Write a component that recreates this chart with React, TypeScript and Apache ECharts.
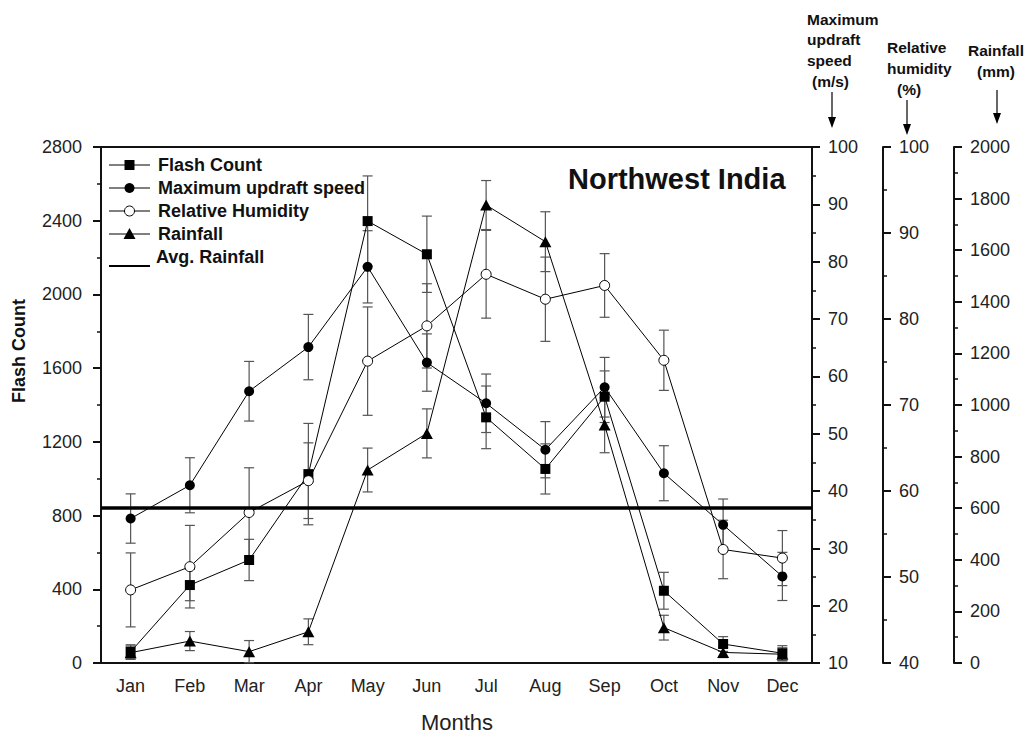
import { useEffect, useRef } from 'react';
import * as echarts from 'echarts';

const months = ['Jan', 'Feb', 'Mar', 'Apr', 'May', 'Jun', 'Jul', 'Aug', 'Sep', 'Oct', 'Nov', 'Dec'];

const flashCount = [61, 423, 559, 1025, 2398, 2218, 1333, 1053, 1445, 392, 103, 53];
const flashCountErr = [38, 85, 112, 275, 245, 207, 170, 136, 140, 100, 40, 41];

const updraftSpeed = [35.2, 41.0, 57.4, 65.1, 79.1, 62.4, 55.3, 47.2, 58.1, 43.1, 34.1, 25.1];
const updraftSpeedErr = [4.3, 4.8, 5.2, 5.7, 6.3, 5.0, 5.1, 4.9, 5.2, 4.8, 4.5, 4.2];

const humidity = [48.5, 51.2, 57.5, 61.2, 75.1, 79.2, 85.2, 82.3, 83.9, 75.2, 53.2, 52.2];
const humidityErr = [4.3, 4.8, 5.2, 4.4, 6.3, 4.9, 5.1, 4.9, 3.7, 3.5, 3.4, 3.2];

const rainfall = [40, 85, 44, 121, 748, 890, 1775, 1633, 922, 137, 41, 34];
const rainfallErr = [26, 37, 43, 50, 85, 95, 95, 116, 107, 48, 20, 25];

const avgRainfall = 600;

const FONT = "'Liberation Sans', Arial, Helvetica, sans-serif";
const INK = '#111';
const ERR = '#555';

const plainNumber = (v: number) => String(v);

const errorBars = (vals: number[], errs: number[], yAxisIndex: number) => ({
  type: 'custom',
  yAxisIndex,
  z: 1,
  silent: true,
  data: vals.map((v, i) => [i, v - errs[i], v + errs[i]]),
  encode: { x: 0, y: [1, 2] },
  renderItem: (_params: any, api: any) => {
    const lo = api.coord([api.value(0), api.value(1)]);
    const hi = api.coord([api.value(0), api.value(2)]);
    const hw = 5;
    const style = { stroke: ERR, lineWidth: 1.2, fill: null };
    return {
      type: 'group',
      children: [
        { type: 'line', shape: { x1: hi[0], y1: hi[1], x2: lo[0], y2: lo[1] }, style },
        { type: 'line', shape: { x1: hi[0] - hw, y1: hi[1], x2: hi[0] + hw, y2: hi[1] }, style },
        { type: 'line', shape: { x1: lo[0] - hw, y1: lo[1], x2: lo[0] + hw, y2: lo[1] }, style },
      ],
    };
  },
});

const valueAxis = (extra: any) => ({
  type: 'value',
  splitLine: { show: false },
  axisLine: { show: true, lineStyle: { color: INK, width: 2 } },
  axisTick: { show: true, length: 8, lineStyle: { color: INK, width: 2 } },
  minorTick: { show: true, splitNumber: 2, length: 4, lineStyle: { color: INK, width: 1.5 } },
  axisLabel: { fontSize: 18, color: '#222', fontFamily: FONT, margin: 16, formatter: plainNumber },
  ...extra,
});

const legendRows = [
  { label: 'Flash Count', kind: 'square', y: 165 },
  { label: 'Maximum updraft speed', kind: 'dot', y: 188 },
  { label: 'Relative Humidity', kind: 'ring', y: 211 },
  { label: 'Rainfall', kind: 'tri', y: 234 },
];

function legendGraphics() {
  const out: any[] = [];
  const x0 = 109;
  const x1 = 150;
  const cx = (x0 + x1) / 2;
  legendRows.forEach((r) => {
    out.push({ type: 'line', shape: { x1: x0, y1: r.y, x2: x1, y2: r.y }, style: { stroke: '#000', lineWidth: 1 } });
    if (r.kind === 'square') {
      out.push({ type: 'rect', shape: { x: cx - 5, y: r.y - 5, width: 10, height: 10 }, style: { fill: '#000' } });
    } else if (r.kind === 'dot') {
      out.push({ type: 'circle', shape: { cx, cy: r.y, r: 5 }, style: { fill: '#000' } });
    } else if (r.kind === 'ring') {
      out.push({ type: 'circle', shape: { cx, cy: r.y, r: 5 }, style: { fill: '#fff', stroke: '#000', lineWidth: 1 } });
    } else {
      out.push({
        type: 'polygon',
        shape: { points: [[cx, r.y - 6], [cx - 6, r.y + 5], [cx + 6, r.y + 5]] },
        style: { fill: '#000' },
      });
    }
    out.push({
      type: 'text',
      x: 158,
      y: r.y,
      style: { text: r.label, fontSize: 18, fontWeight: 'bold', fontFamily: FONT, fill: INK, verticalAlign: 'middle' },
    });
  });
  out.push({ type: 'line', shape: { x1: x0, y1: 266, x2: x1, y2: 266 }, style: { stroke: '#000', lineWidth: 2 } });
  out.push({
    type: 'text',
    x: 156,
    y: 257,
    style: { text: 'Avg. Rainfall', fontSize: 18, fontWeight: 'bold', fontFamily: FONT, fill: INK, verticalAlign: 'middle' },
  });
  return out;
}

function arrow(x: number, yTop: number, yTip: number) {
  return [
    { type: 'line', shape: { x1: x, y1: yTop, x2: x, y2: yTip - 8 }, style: { stroke: '#000', lineWidth: 1.2 } },
    {
      type: 'polygon',
      shape: { points: [[x - 4, yTip - 11], [x + 4, yTip - 11], [x, yTip]] },
      style: { fill: '#000' },
    },
  ];
}

const headText = (text: string, x: number, y: number) => ({
  type: 'text',
  x,
  y,
  style: { text, fontSize: 15.5, fontWeight: 'bold', fontFamily: FONT, fill: INK, verticalAlign: 'middle' },
});

export default function App() {
  const ref = useRef<HTMLDivElement>(null);

  useEffect(() => {
    document.body.style.margin = '0';
    const chart = echarts.init(ref.current!, undefined, { renderer: 'svg' });

    const option: any = {
      animation: false,
      backgroundColor: '#fff',
      grid: { left: 101, right: 222, top: 147, bottom: 73, show: true, borderColor: INK, borderWidth: 2 },
      xAxis: [
        {
          type: 'category',
          data: months,
          boundaryGap: true,
          position: 'bottom',
          axisLine: { lineStyle: { color: INK, width: 2 } },
          axisTick: { alignWithLabel: true, length: 8, lineStyle: { color: INK, width: 2 } },
          axisLabel: { fontSize: 18, color: '#222', fontFamily: FONT, margin: 14, interval: 0 },
          splitLine: { show: false },
        },
        {
          type: 'category',
          data: months,
          boundaryGap: true,
          position: 'bottom',
          axisLine: { show: false },
          axisTick: { inside: true, length: 4, lineStyle: { color: INK, width: 1.5 } },
          axisLabel: { show: false },
          splitLine: { show: false },
        },
      ],
      yAxis: [
        valueAxis({
          position: 'left',
          min: 0,
          max: 2800,
          interval: 400,
          axisLabel: { fontSize: 18, color: '#222', fontFamily: FONT, margin: 19, formatter: plainNumber },
        }),
        valueAxis({ position: 'right', offset: 0, min: 10, max: 100, interval: 10 }),
        valueAxis({ position: 'right', offset: 71, min: 40, max: 100, interval: 10 }),
        valueAxis({ position: 'right', offset: 142, min: 0, max: 2000, interval: 200 }),
      ],
      graphic: [
        ...legendGraphics(),
        {
          type: 'text',
          x: 568,
          y: 179,
          style: { text: 'Northwest India', fontSize: 29, fontWeight: 'bold', fontFamily: FONT, fill: INK, verticalAlign: 'middle' },
        },
        {
          type: 'text',
          x: 19,
          y: 351,
          rotation: Math.PI / 2,
          style: { text: 'Flash Count', fontSize: 18, fontWeight: 'bold', fontFamily: FONT, fill: INK, align: 'center', verticalAlign: 'middle' },
        },
        {
          type: 'text',
          x: 457,
          y: 722,
          style: { text: 'Months', fontSize: 22, fontFamily: FONT, fill: '#222', align: 'center', verticalAlign: 'middle' },
        },
        headText('Maximum', 807, 19),
        headText('updraft', 807, 39),
        headText('speed', 807, 60),
        headText('(m/s)', 812, 81),
        headText('Relative', 887, 47),
        headText('humidity', 887, 68),
        headText('(%)', 897, 89),
        headText('Rainfall', 968, 50),
        headText('(mm)', 977, 71),
        ...arrow(832, 92, 128),
        ...arrow(907, 100, 135),
        ...arrow(997, 90, 124),
      ],
      series: [
        errorBars(flashCount, flashCountErr, 0),
        errorBars(updraftSpeed, updraftSpeedErr, 1),
        errorBars(humidity, humidityErr, 2),
        errorBars(rainfall, rainfallErr, 3),
        {
          type: 'line',
          name: 'Flash Count',
          data: flashCount,
          yAxisIndex: 0,
          symbol: 'rect',
          symbolSize: 10,
          showSymbol: true,
          z: 3,
          lineStyle: { color: '#000', width: 1 },
          itemStyle: { color: '#000' },
        },
        {
          type: 'line',
          name: 'Maximum updraft speed',
          data: updraftSpeed,
          yAxisIndex: 1,
          symbol: 'circle',
          symbolSize: 10,
          showSymbol: true,
          z: 3,
          lineStyle: { color: '#000', width: 1 },
          itemStyle: { color: '#000' },
        },
        {
          type: 'line',
          name: 'Relative Humidity',
          data: humidity,
          yAxisIndex: 2,
          symbol: 'circle',
          symbolSize: 10,
          showSymbol: true,
          z: 3,
          lineStyle: { color: '#000', width: 1 },
          itemStyle: { color: '#fff', borderColor: '#000', borderWidth: 1 },
        },
        {
          type: 'line',
          name: 'Rainfall',
          data: rainfall,
          yAxisIndex: 3,
          symbol: 'triangle',
          symbolSize: [12, 11],
          showSymbol: true,
          z: 3,
          lineStyle: { color: '#000', width: 1 },
          itemStyle: { color: '#000' },
          markLine: {
            silent: true,
            symbol: 'none',
            label: { show: false },
            lineStyle: { color: '#000', width: 3.5, type: 'solid' },
            data: [{ yAxis: avgRainfall, name: 'Avg. Rainfall' }],
          },
        },
      ],
    };

    chart.setOption(option);
    return () => chart.dispose();
  }, []);

  return (
    <div
      ref={ref}
      style={{ position: 'absolute', left: 0, top: 0, width: 1034, height: 736, background: '#fff' }}
    />
  );
}
